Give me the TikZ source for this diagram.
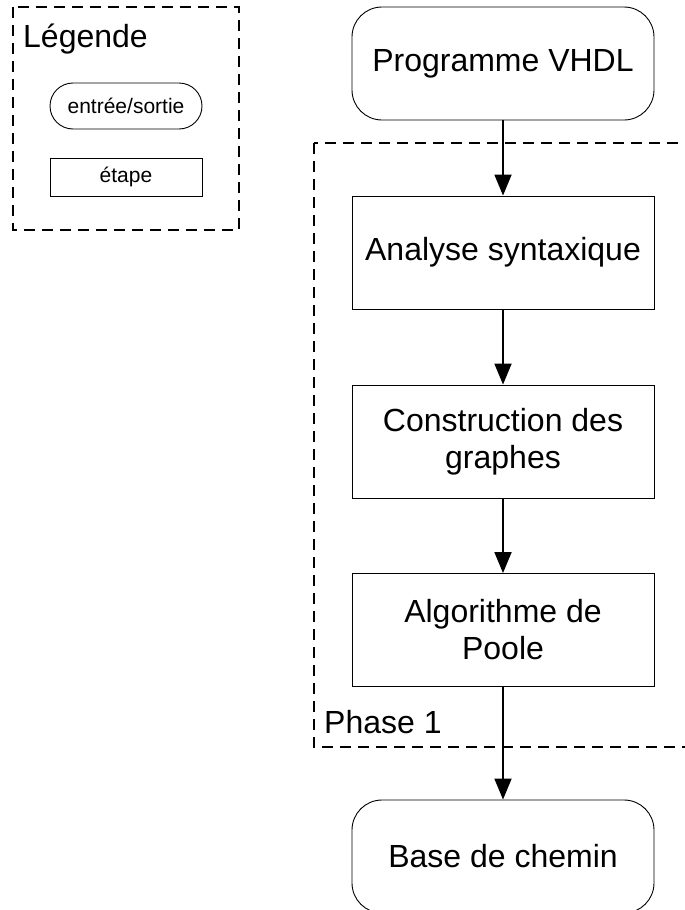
\documentclass[tikz,border=0pt]{standalone}
\usepackage{fontspec}
\setmainfont{Liberation Sans}
\usetikzlibrary{arrows.meta}
\begin{document}
\begin{tikzpicture}[x=1pt,y=-1pt,
  io/.style={draw, line width=0.9pt, rounded corners=30pt, minimum width=302pt, minimum height=113pt, inner sep=0pt, align=center, font=\fontsize{32}{37}\selectfont},
  stepbox/.style={draw, line width=0.9pt, minimum width=302pt, minimum height=113pt, inner sep=0pt, align=center, font=\fontsize{32}{37}\selectfont},
  flow/.style={line width=1.8pt, -{Triangle[width=17pt,length=21pt]}},
  frame/.style={line width=1.4pt, dash pattern=on 11pt off 7pt},
  lab/.style={inner sep=0pt, anchor=base west, font=\fontsize{32}{37}\selectfont}
]
\clip (0,0) rectangle (685,910);
\fill[white] (0,0) rectangle (685,910);
% legend
\draw[frame] (13,7) rectangle (239,230);
\node[lab] (leg) at (23,47) {Légende};
\node[draw, line width=0.9pt, rounded corners=23pt, minimum width=152pt, minimum height=46pt, inner sep=0pt, font=\fontsize{21}{25}\selectfont] (lio) at (126,106) {entrée/sortie};
\node[draw, line width=0.9pt, minimum width=152pt, minimum height=38pt, inner sep=0pt, font=\fontsize{21}{25}\selectfont] (lstep) at (126,177) {étape};
% phase box
\draw[frame] (314,143) rectangle (720,747);
\node[lab] (ph) at (324,733) {Phase 1};
% flow
\node[io] (prog) at (503,63.5) {Programme VHDL};
\node[stepbox] (ana) at (503,252.5) {Analyse syntaxique};
\node[stepbox] (cons) at (503,441.5) {Construction des\\graphes};
\node[stepbox] (algo) at (503,630) {Algorithme de\\Poole};
\node[io] (base) at (503,856.5) {Base de chemin};
\draw[flow] (prog) -- (ana);
\draw[flow] (ana) -- (cons);
\draw[flow] (cons) -- (algo);
\draw[flow] (algo) -- (base);
\end{tikzpicture}
\end{document}
